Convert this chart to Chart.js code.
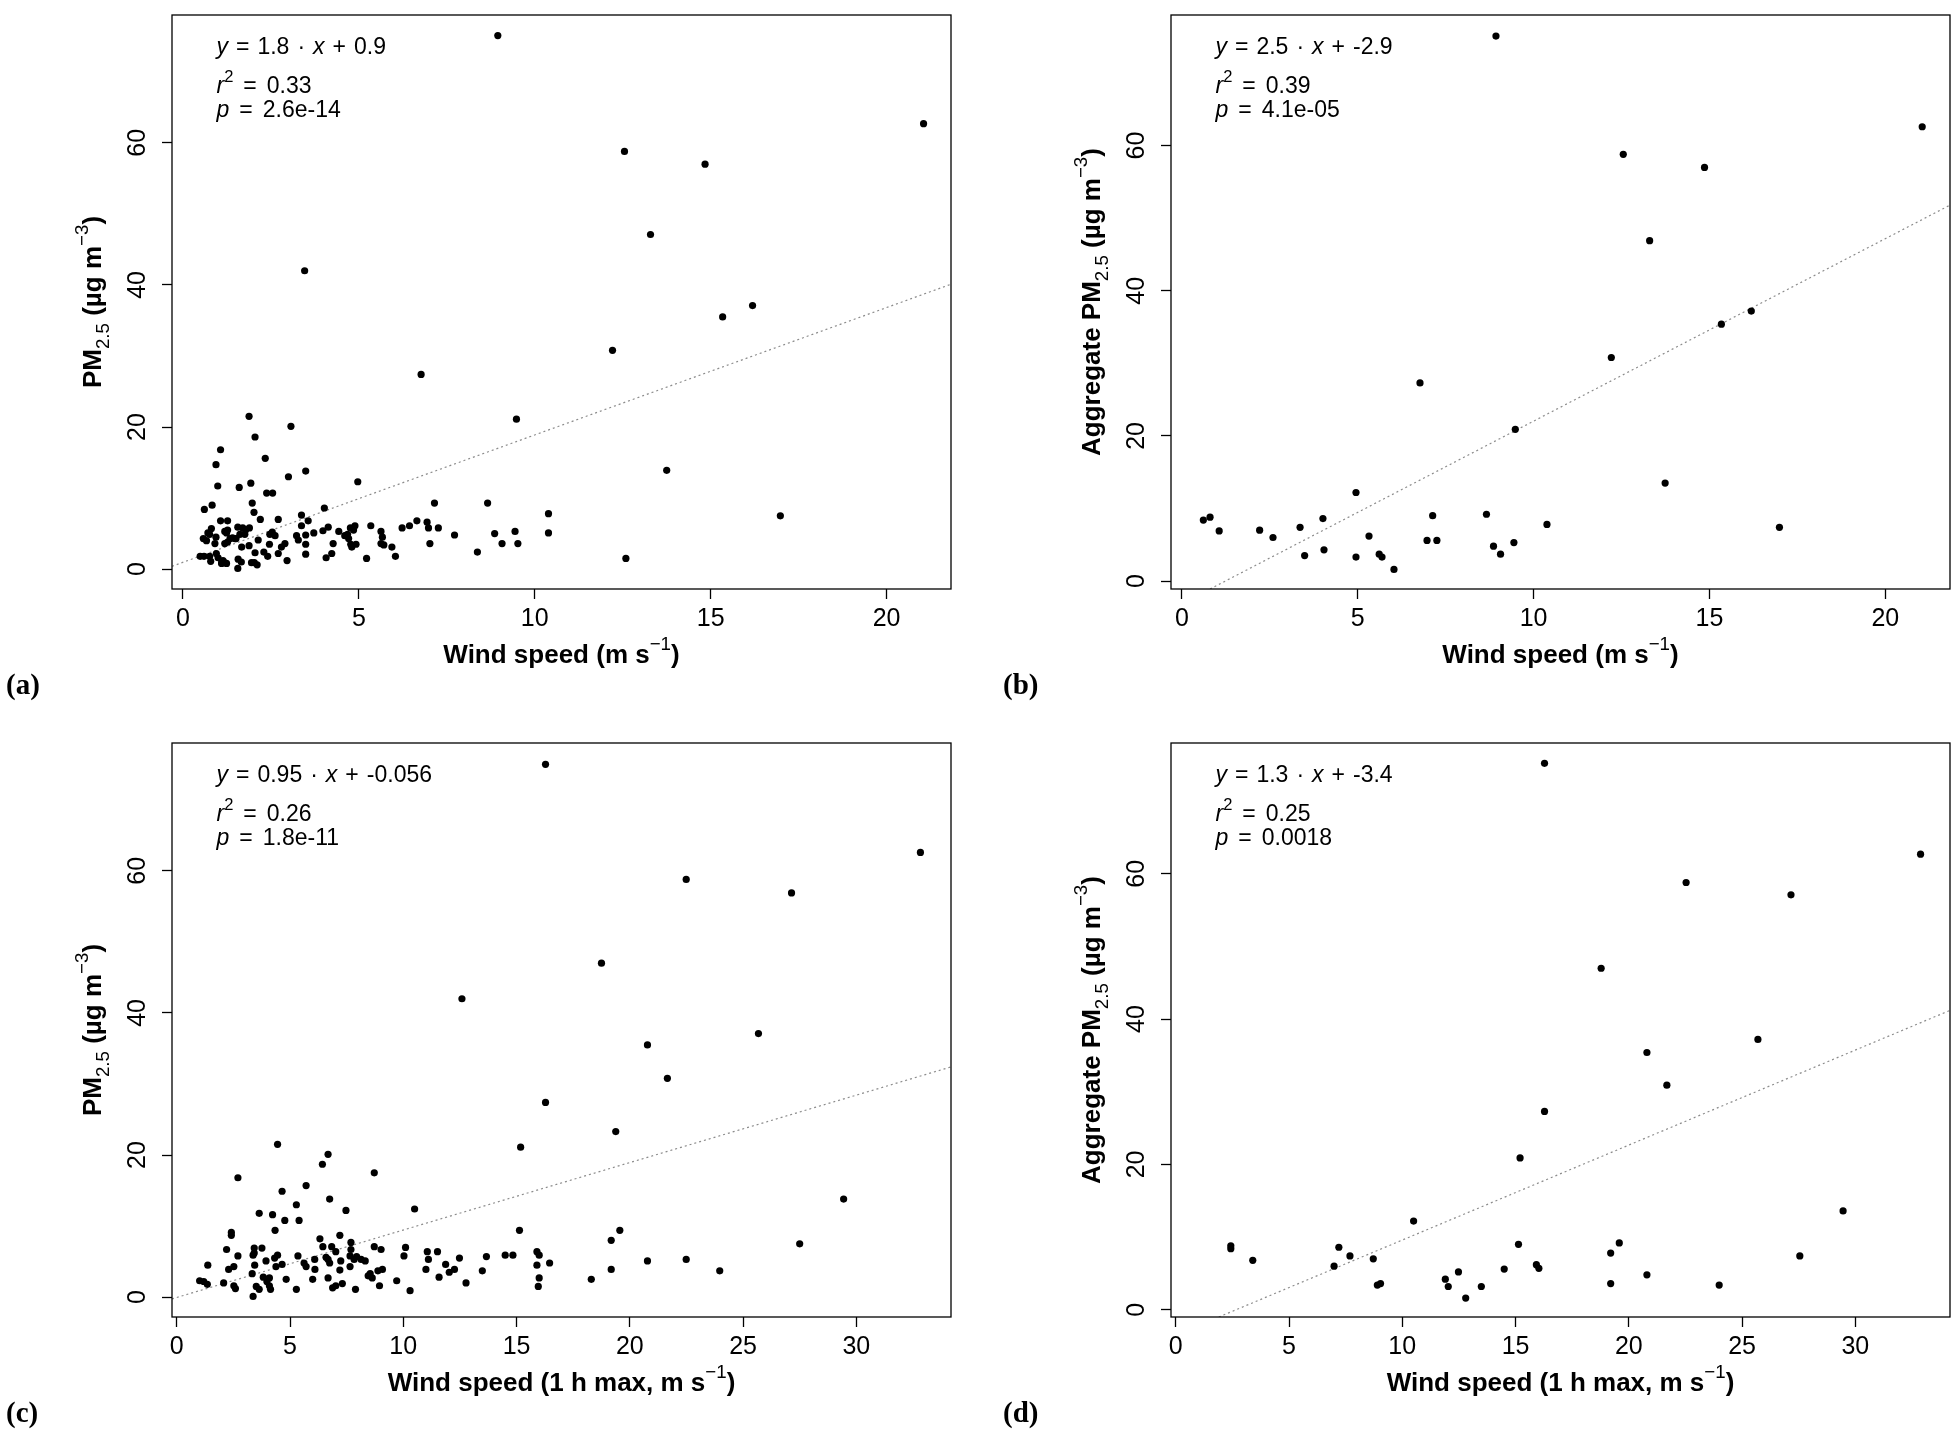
<!DOCTYPE html>
<html>
<head>
<meta charset="utf-8">
<script src="https://cdn.jsdelivr.net/npm/chart.js@4.4.1/dist/chart.umd.min.js"></script>
<style>
  html, body { margin: 0; padding: 0; background: #fff; }
  #wrap { position: relative; width: 1958px; height: 1440px; overflow: hidden; }
  canvas { position: absolute; }
</style>
</head>
<body>
<div id="wrap">
  <canvas id="pa" width="959" height="712" style="left:0px;top:0px"></canvas>
  <canvas id="pb" width="959" height="712" style="left:999px;top:0px"></canvas>
  <canvas id="pc" width="959" height="712" style="left:0px;top:728px"></canvas>
  <canvas id="pd" width="959" height="712" style="left:999px;top:728px"></canvas>
</div>
<script>
// ---- data ----
// (a) hourly PM2.5 vs wind speed
const windA = [8.95,21.05,12.55,14.84,13.29,3.46,16.19,15.34,12.21,6.77,9.48,13.75,16.98,12.59,
  1.88,3.07,2.05,1.07,2.34,0.94,3.49,3.00,0.99,1.6,1.93,4.97,2.38,2.55,1.97,0.83,0.61,4.02,7.15,8.66,
  10.39,10.39,2.02,3.37,2.2,2.71,3.56,1.07,1.27,3.37,6.65,6.44,6.23,6.94,6.98,7.26,7.72,8.86,9.44,
  9.07,9.52,8.37,7.02,5.34,5.63,5.67,5.63,5.71,5.94,6.04,5.22,4.89,4.85,4.76,4.68,4.71,4.6,4.92,4.8,
  4.77,4.43,4.27,4.23,4.07,4.13,3.98,3.72,3.49,3.49,3.49,3.23,3.28,2.96,2.9,2.8,2.71,2.62,2.54,2.47,
  2.46,2.41,2.3,2.14,2.05,2.03,2.11,1.95,1.88,1.89,1.78,1.70,1.76,1.62,1.67,1.66,1.57,1.56,1.56,1.51,
  1.48,1.27,1.19,1.24,1.19,1.27,1.1,1.14,1.24,1.1,1.16,0.95,1.0,0.79,0.76,0.6,0.49,0.81,0.76,0.71,
  0.58,0.67,0.91,0.94,1.41,1.34];
const pmA = [75.1,62.7,58.8,57.0,47.1,42.0,37.1,35.5,30.8,27.4,21.1,13.9,7.5,1.5,
  21.5,20.1,18.6,16.8,15.6,14.7,13.8,13.0,11.7,11.5,12.1,12.3,10.7,10.7,9.3,9.0,8.4,8.6,9.3,9.3,
  7.8,5.1,8.0,7.6,7.0,7.0,6.8,6.8,6.8,6.1,6.8,6.1,5.8,6.6,5.8,5.8,4.8,5.0,5.3,
  3.6,3.6,2.4,3.6,6.1,5.3,4.5,3.6,3.4,3.1,1.8,1.5,6.1,5.5,5.8,4.9,4.3,4.7,3.5,3.1,
  3.5,5.3,3.6,2.2,1.6,5.9,5.4,5.1,4.8,3.5,2.1,4.7,4.1,1.2,3.6,3.1,2.2,4.7,5.2,4.9,
  3.5,1.8,2.4,4.1,2.3,0.9,0.6,0.9,3.3,5.8,5.5,5.8,4.9,4.9,3.1,1.0,1.4,0.1,5.9,4.3,
  4.3,5.5,5.3,5.1,3.6,3.8,0.9,1.2,0.8,0.8,1.0,2.2,1.6,1.1,1.8,1.8,1.8,5.7,4.9,5.1,
  4.3,4.0,3.6,4.5,4.4,4.3];

// (b) aggregate PM2.5 vs wind speed
const windB = [8.93,21.05,12.55,14.86,13.30,16.19,15.34,12.21,6.77,9.48,13.74,4.95,0.61,0.8,1.06,
  2.21,2.59,3.36,4.01,3.49,4.04,4.95,5.32,5.61,5.69,6.03,7.13,6.97,7.25,8.66,8.86,9.06,9.44,10.38,16.99];
const pmB = [75.1,62.6,58.8,57.0,46.9,37.2,35.4,30.8,27.3,20.9,13.5,12.2,8.4,8.8,6.9,
  7.0,6.0,7.4,8.6,3.5,4.3,3.3,6.2,3.7,3.3,1.6,9.0,5.6,5.6,9.2,4.8,3.7,5.3,7.8,7.4];

// (c) hourly PM2.5 vs 1 h max wind speed
const windC = [16.28,32.83,22.49,27.14,18.75,12.59,25.68,20.78,21.66,16.28,19.38,15.18,4.45,6.68,6.43,
  2.7,8.72,5.71,4.65,6.75,5.28,7.47,10.5,3.64,4.23,4.77,5.4,29.44,2.41,2.41,4.34,15.13,19.56,19.18,
  27.5,7.2,6.32,6.45,2.2,2.7,3.42,3.76,3.42,1.37,1.01,1.35,1.19,2.07,2.29,2.52,2.52,2.59,3.33,3.44,
  3.37,3.37,3.51,3.64,3.94,3.82,4.09,4.09,3.98,4.14,4.32,4.45,4.65,4.38,4.83,5.28,5.35,5.62,5.71,
  6.0,6.1,6.09,6.59,6.68,6.75,6.68,6.88,7.02,6.84,7.02,7.24,7.2,7.31,7.69,7.69,7.65,7.65,7.83,7.94,
  8.14,8.32,7.89,8.45,8.54,8.63,8.72,8.88,9.02,9.08,8.95,9.71,10.03,10.1,10.3,11.0,11.06,11.11,
  11.51,11.58,11.87,12.03,12.26,12.48,12.77,13.49,13.67,14.5,14.84,15.9,16.0,15.9,16.0,15.96,16.46,
  18.3,19.18,20.78,22.49,23.97];
const pmC = [75.0,62.6,58.8,56.9,47.0,42.0,37.1,35.5,30.8,27.4,23.3,21.1,21.5,20.1,18.7,
  16.8,17.5,15.7,14.9,13.8,13.0,12.2,12.4,11.8,11.6,10.8,10.8,13.8,9.1,8.7,9.4,9.4,9.4,8.0,
  7.5,8.7,8.2,7.1,6.7,5.8,6.9,6.9,6.2,4.5,2.3,1.8,2.2,2.0,3.9,4.3,1.6,1.2,3.3,4.5,
  5.9,0.1,1.5,1.1,5.1,2.8,2.7,1.6,2.2,1.1,5.5,5.9,4.6,4.3,2.5,1.1,5.8,4.8,4.3,
  2.5,3.9,5.3,5.6,5.3,4.8,2.7,1.3,1.6,7.1,6.4,5.1,3.8,1.9,7.7,6.7,5.8,4.3,5.3,5.7,
  5.3,5.1,1.1,3.0,3.3,2.7,7.1,3.7,6.7,3.9,1.6,2.3,5.8,7.0,0.9,3.9,6.4,5.3,
  6.4,2.8,4.6,3.5,3.9,5.5,2.0,3.7,5.7,5.9,5.9,6.4,5.9,4.5,2.7,1.5,4.8,
  2.5,3.9,5.1,5.3,3.7];

// (d) aggregate PM2.5 vs 1 h max wind speed
const windD = [16.28,32.88,22.53,27.16,18.78,25.7,20.8,21.68,16.28,15.2,29.46,10.5,2.43,2.43,3.4,
  7.2,7.69,6.99,8.72,8.9,9.04,11.9,12.03,12.48,12.8,13.49,14.5,15.13,15.92,16.03,19.2,19.58,19.2,
  20.8,23.99,27.55];
const pmD = [75.2,62.7,58.8,57.1,47.0,37.2,35.4,30.9,27.3,20.9,13.6,12.2,8.8,8.4,6.8,
  8.6,7.4,6.0,7.0,3.4,3.6,4.2,3.2,5.2,1.6,3.2,5.6,9.0,6.2,5.7,7.8,9.2,3.6,
  4.8,3.4,7.4];

// fitted lines, end points at the plot edges
const fitA = [{x: -0.31, y: 0.4}, {x: 21.83, y: 40.1}];
const fitB = [{x: 0.8, y: -1.1}, {x: 21.84, y: 51.8}];
const fitC = [{x: -0.21, y: -0.25}, {x: 34.18, y: 32.4}];
const fitD = [{x: 1.9, y: -1.0}, {x: 34.18, y: 41.2}];

// tick labels
const xTicksWs = [0, 5, 10, 15, 20];
const xTicksMax = [0, 5, 10, 15, 20, 25, 30];
const yTicks = [0, 20, 40, 60];

// fit statistics text
const slopes = ['1.8', '2.5', '0.95', '1.3'];
const intercepts = ['0.9', '-2.9', '-0.056', '-3.4'];
const r2s = ['0.33', '0.39', '0.26', '0.25'];
const pvals = ['2.6e-14', '4.1e-05', '1.8e-11', '0.0018'];
const panelTags = ['(a)', '(b)', '(c)', '(d)'];

const SANS = '"Liberation Sans", Arial, sans-serif';

// draw a run of text pieces (italic, sub/superscript, gaps) from x on baseline y
function drawRich(ctx, parts, x, y, size, bold) {
  let cx = x;
  parts.forEach(p => {
    if (p.g) { cx += p.g; return; }
    let s = size, dy = 0, w = bold ? 'bold ' : '';
    if (p.sub) { s = size * 0.72; dy = size * 0.28; w = ''; }
    if (p.sup) { s = size * 0.72; dy = -size * 0.5; w = ''; }
    ctx.font = (p.it ? 'italic ' : '') + w + s + 'px ' + SANS;
    ctx.fillText(p.t, cx, y + dy);
    cx += ctx.measureText(p.t).width;
  });
  return cx - x;
}

function richWidth(ctx, parts, size, bold) {
  ctx.save();
  ctx.globalAlpha = 0;
  const w = drawRich(ctx, parts, 0, -1000, size, bold);
  ctx.restore();
  return w;
}

const framePlugin = {
  id: 'frame',
  afterDatasetsDraw(chart) {
    const a = chart.chartArea, ctx = chart.ctx;
    ctx.save();
    ctx.strokeStyle = '#000';
    ctx.lineWidth = 1.3;
    ctx.strokeRect(a.left, a.top, a.right - a.left, a.bottom - a.top);
    ctx.restore();
  }
};

const textPlugin = {
  id: 'texts',
  afterDraw(chart, args, o) {
    const a = chart.chartArea, ctx = chart.ctx;
    ctx.save();
    ctx.fillStyle = '#000';
    ctx.textBaseline = 'alphabetic';
    ctx.textAlign = 'left';
    const ex = a.left + 44.5, g = 8;
    drawRich(ctx, [{t: 'y', it: 1}, {g}, {t: '='}, {g}, {t: o.slope}, {g}, {t: '\u00b7'}, {g},
      {t: 'x', it: 1}, {g}, {t: '+'}, {g}, {t: o.icpt}], ex, a.top + 39, 23);
    drawRich(ctx, [{t: 'r', it: 1}, {t: '2', sup: 1}, {g: 10}, {t: '='}, {g: 10}, {t: o.r2}], ex, a.top + 78, 23);
    drawRich(ctx, [{t: 'p', it: 1}, {g: 10}, {t: '='}, {g: 10}, {t: o.p}], ex, a.top + 101.5, 23);

    // x title
    const xw = richWidth(ctx, o.xTitle, 26, true);
    drawRich(ctx, o.xTitle, (a.left + a.right) / 2 - xw / 2, a.bottom + 74, 26, true);

    // y title, rotated
    const yw = richWidth(ctx, o.yTitle, 26, true);
    ctx.save();
    ctx.translate(a.left - 70.6, (a.top + a.bottom) / 2);
    ctx.rotate(-Math.PI / 2);
    drawRich(ctx, o.yTitle, -yw / 2, 0, 26, true);
    ctx.restore();

    // panel tag
    ctx.font = 'bold 29px "Liberation Serif", "Times New Roman", serif';
    ctx.fillText(o.tag, o.tagX, 694);
    ctx.restore();
  }
};

const yTitlePM = [{t: 'PM'}, {t: '2.5', sub: 1}, {t: ' (\u00b5g m'}, {t: '\u22123', sup: 1}, {t: ')'}];
const yTitleAgg = [{t: 'Aggregate PM'}, {t: '2.5', sub: 1}, {t: ' (\u00b5g m'}, {t: '\u22123', sup: 1}, {t: ')'}];
const xTitleWs = [{t: 'Wind speed (m s'}, {t: '\u22121', sup: 1}, {t: ')'}];
const xTitleMax = [{t: 'Wind speed (1 h max, m s'}, {t: '\u22121', sup: 1}, {t: ')'}];

function makePanel(id, i, xs, ys, fit, xr, yr, xTicks, xTitle, yTitle, tagX) {
  const pts = xs.map((x, k) => ({x: x, y: ys[k]}));
  const tickFont = {family: SANS, size: 25};
  new Chart(document.getElementById(id), {
    type: 'scatter',
    data: {
      datasets: [
        {data: pts, pointRadius: 3.6, pointBackgroundColor: '#000', pointBorderWidth: 0, showLine: false},
        {type: 'line', data: fit, borderColor: '#8c8c8c', borderWidth: 1.2, borderDash: [2, 3],
          pointRadius: 0, fill: false, tension: 0}
      ]
    },
    options: {
      responsive: false,
      animation: false,
      events: [],
      layout: {padding: {left: 0, right: 8, top: 15, bottom: 0}},
      plugins: {
        legend: {display: false},
        tooltip: {enabled: false},
        texts: {slope: slopes[i], icpt: intercepts[i], r2: r2s[i], p: pvals[i],
          xTitle: xTitle, yTitle: yTitle, tag: panelTags[i], tagX: tagX}
      },
      scales: {
        x: {
          type: 'linear', min: xr[0], max: xr[1],
          afterBuildTicks: s => { s.ticks = xTicks.map(v => ({value: v})); },
          afterFit: s => { s.height = 712 - 589; s.paddingLeft = 0; s.paddingRight = 0; },
          border: {display: false},
          grid: {display: true, drawOnChartArea: false, drawTicks: true, tickLength: 10,
            tickWidth: 1.3, tickColor: '#000', color: '#000'},
          ticks: {font: tickFont, color: '#000', padding: 5, maxRotation: 0, autoSkip: false}
        },
        y: {
          type: 'linear', min: yr[0], max: yr[1],
          afterBuildTicks: s => { s.ticks = yTicks.map(v => ({value: v})); },
          afterFit: s => { s.width = 172; s.paddingTop = 0; s.paddingBottom = 0; },
          border: {display: false},
          grid: {display: true, drawOnChartArea: false, drawTicks: true, tickLength: 10,
            tickWidth: 1.3, tickColor: '#000', color: '#000'},
          ticks: {font: tickFont, color: '#000', padding: 10, minRotation: 90, maxRotation: 90,
            crossAlign: 'center', autoSkip: false}
        }
      }
    },
    plugins: [framePlugin, textPlugin]
  });
}

makePanel('pa', 0, windA, pmA, fitA, [-0.31, 21.83], [-2.8, 78], xTicksWs, xTitleWs, yTitlePM, 6);
makePanel('pb', 1, windB, pmB, fitB, [-0.31, 21.84], [-1.1, 78], xTicksWs, xTitleWs, yTitleAgg, 4);
makePanel('pc', 2, windC, pmC, fitC, [-0.21, 34.18], [-2.8, 78], xTicksMax, xTitleMax, yTitlePM, 6);
makePanel('pd', 3, windD, pmD, fitD, [-0.21, 34.18], [-1.0, 78], xTicksMax, xTitleMax, yTitleAgg, 4);
</script>
</body>
</html>
